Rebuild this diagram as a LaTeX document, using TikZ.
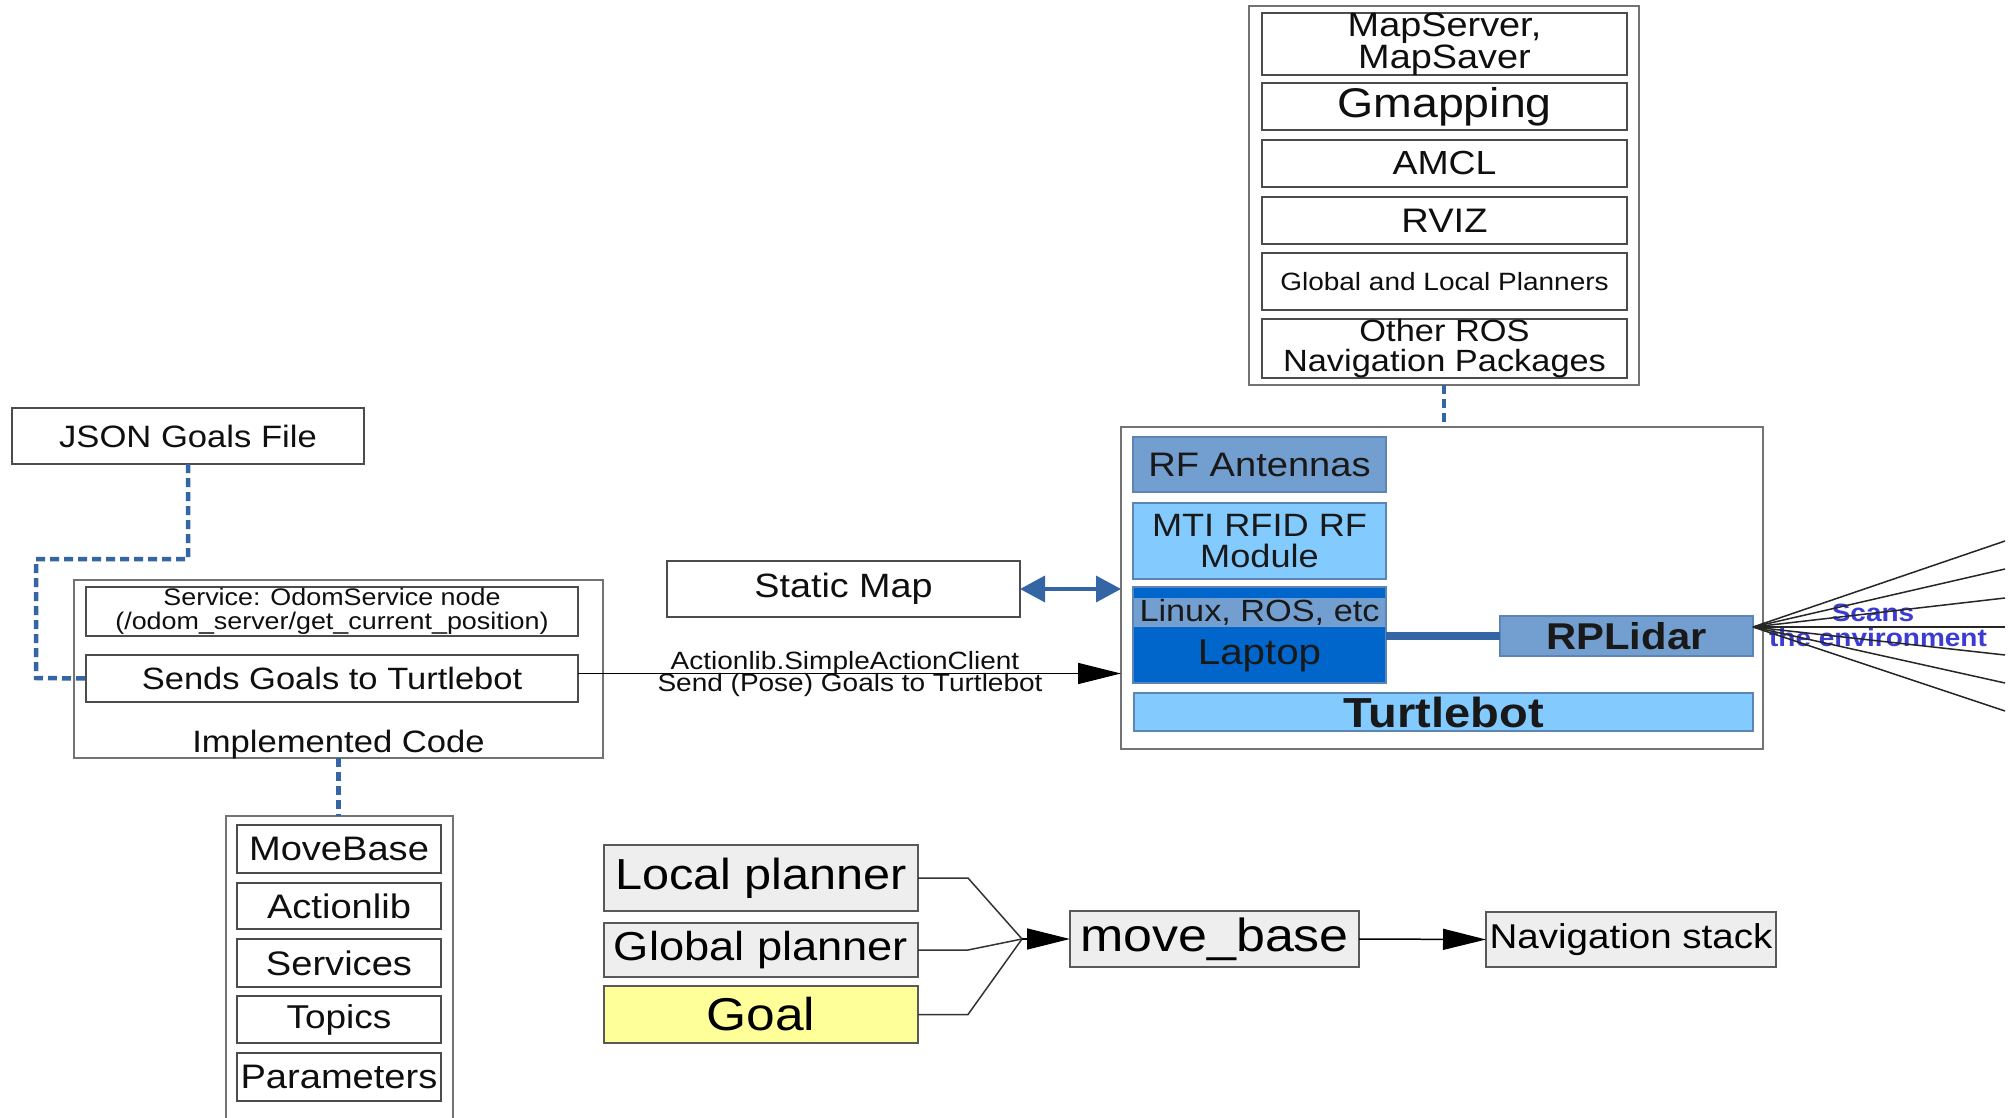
\documentclass[tikz,border=0pt]{standalone}
\usepackage{fontspec}
\setmainfont{Liberation Sans}[FakeStretch=1.12]
\usetikzlibrary{arrows.meta,calc}
\definecolor{medblue}{RGB}{114,159,207}
\definecolor{ltblue}{RGB}{131,202,255}
\definecolor{dkblue}{RGB}{0,102,204}
\definecolor{lineblue}{RGB}{52,101,164}
\definecolor{scanblue}{RGB}{60,60,210}
\definecolor{boxgray}{RGB}{238,238,238}
\definecolor{goalyel}{RGB}{255,255,153}
\definecolor{txt}{RGB}{15,15,15}
\newcommand{\fsz}[2]{\fontsize{#1}{#2}\selectfont}
\newcommand{\mkbox}[7]{\node[#1, minimum width={(#5)-(#3)}, minimum height={(#6)-(#4)}] (#2) at ({((#3)+(#5))/2},{((#4)+(#6))/2}) {#7};}
\tikzset{
  box/.style={draw=black!70, line width=2pt, fill=white, inner sep=0pt, outer sep=0pt, align=center, text=txt},
  outerbox/.style={draw=black!55, line width=2pt, inner sep=0pt, outer sep=0pt},
  bluebox/.style={draw=lineblue!80, line width=1.5pt, inner sep=0pt, outer sep=0pt, align=center, text=black!90},
  flowbox/.style={draw=black!65, line width=2pt, fill=boxgray, inner sep=0pt, outer sep=0pt, text=black},
  lbl/.style={inner sep=0pt, text=txt},
  dotline/.style={draw=lineblue, line width=4.5pt, dash pattern=on 9pt off 5pt},
  bigarrow/.style={line width=1.5pt, black, -{Triangle[length=43pt,width=21pt]}},
  flowline/.style={line width=1.5pt, black!80},
  ray/.style={line width=1.5pt, black!85},
}
\begin{document}
\begin{tikzpicture}[x=1pt,y=-1pt]
\useasboundingbox (0,0) rectangle (2011,1118);
\clip (0,0) rectangle (2011,1118);
\fill[white] (0,0) rectangle (2011,1118);

% ---------- ROS navigation packages stack ----------
\mkbox{outerbox}{navout}{1249}{6}{1639}{385}{}
\mkbox{box,font=\fsz{33.8}{32}}{mapsrv}{1262}{15}{1627}{73}{MapServer,\\MapSaver}
\mkbox{box,font=\fsz{41.5}{41}}{gmap}{1262}{83}{1627}{130}{Gmapping}
\mkbox{box,font=\fsz{33.4}{33}}{amcl}{1262}{140}{1627}{187}{AMCL}
\mkbox{box,font=\fsz{34}{34}}{rviz}{1262}{197}{1627}{244}{RVIZ}
\mkbox{box,font=\fsz{25}{25}}{planners}{1262}{253}{1627}{310}{Global and Local Planners}
\mkbox{box,font=\fsz{30.7}{30}}{otherros}{1262}{320}{1627}{377}{Other ROS\\Navigation Packages}

% ---------- Turtlebot ----------
\mkbox{outerbox}{tbot}{1121}{427}{1763}{749}{}
\draw[dotline] (navout.south) -- (navout.south |- tbot.north);
\mkbox{bluebox,fill=medblue,font=\fsz{34}{34}}{rfant}{1133}{437}{1386}{492}{RF Antennas}
\mkbox{bluebox,fill=ltblue,font=\fsz{32.3}{31}}{mti}{1133}{503}{1386}{579}{MTI RFID RF\\Module}
\mkbox{bluebox,fill=dkblue}{laptop}{1133}{587}{1386}{683}{}
\mkbox{bluebox,fill=medblue,draw=none,font=\fsz{30.6}{30}}{linux}{1134}{598}{1385}{627}{Linux, ROS, etc}
\node[lbl,font=\fsz{36}{36},text=black!90] (laptoptxt) at (1259.5,656) {Laptop};
\mkbox{bluebox,fill=medblue,font=\bfseries\fsz{37.3}{37}}{rplidar}{1500}{616}{1753}{656}{RPLidar}
\mkbox{bluebox,fill=ltblue,font=\bfseries\fsz{42}{42}}{tbar}{1134}{693}{1753}{731}{Turtlebot}
\draw[lineblue, line width=8pt] (laptop.east |- rplidar.west) -- (rplidar.west);

% scans
\node[lbl,font=\bfseries\fsz{25}{25}, text=scanblue] (scans) at (1873,613) {Scans};
\node[lbl,font=\bfseries\fsz{25}{25}, text=scanblue] (envtxt) at (1878,638) {the environment};
\coordinate (lp) at (1753,627);
\foreach \yy in {541,569,598,655,683,711} \draw[ray] (lp) -- (2005,\yy);
\draw[ray, {Stealth[length=12pt,width=9pt]}-] (lp) -- (2005,627);

% ---------- Implemented code ----------
\mkbox{box,font=\fsz{30.9}{31}}{json}{12}{408}{364}{464}{JSON Goals File}
\mkbox{outerbox}{impl}{74}{580}{603}{758}{}
\mkbox{box,font=\fsz{24}{24}}{service}{86}{587}{578}{636}{Service: OdomService node\\(/odom\_server/get\_current\_position)}
\mkbox{box,font=\fsz{30.8}{31}}{sends}{86}{655}{578}{702}{Sends Goals to Turtlebot}
\node[lbl,font=\fsz{30.9}{31}] (impltxt) at (338.5,745) {Implemented Code};
\draw[dotline] (json.south) -- ++(0,95) -| ++(-152,119) -- (sends.west);

% ---------- ROS concepts ----------
\mkbox{outerbox}{pkg}{226}{816}{453}{1140}{}
\draw[dotline] (impl.south) -- (impl.south |- pkg.north);
\mkbox{box,font=\fsz{34}{34}}{movebasepk}{237}{825}{441}{873}{MoveBase}
\mkbox{box,font=\fsz{34}{34}}{actionlibpk}{237}{883}{441}{929}{Actionlib}
\mkbox{box,font=\fsz{34}{34}}{servicespk}{237}{939}{441}{987}{Services}
\mkbox{box,font=\fsz{33}{34}}{topicspk}{237}{996}{441}{1043}{Topics}
\mkbox{box,font=\fsz{34}{34}}{paramspk}{237}{1053}{441}{1101}{Parameters}

% ---------- Static map and actionlib ----------
\mkbox{box,font=\fsz{33.7}{34}}{staticmap}{667}{561}{1020}{617}{Static Map}
\draw[lineblue, line width=3.5pt, {Triangle[length=25pt,width=26pt]}-{Triangle[length=25pt,width=26pt]}] (staticmap.east) -- (staticmap.east -| tbot.west);
\draw[bigarrow] ([yshift=5pt]sends.east) -- ([yshift=5pt]sends.east -| tbot.west);
\node[lbl,font=\fsz{25}{25},anchor=base] (actlbl1) at (845,669) {Actionlib.SimpleActionClient};
\node[lbl,font=\fsz{25}{25},anchor=base] (actlbl2) at (850,691) {Send (Pose) Goals to Turtlebot};

% ---------- move_base flow ----------
\mkbox{flowbox,font=\fsz{43.4}{43}}{local}{604}{845}{918}{911}{Local planner}
\mkbox{flowbox,font=\fsz{40.4}{40}}{global}{604}{923}{918}{977}{Global planner}
\mkbox{flowbox,fill=goalyel,font=\fsz{46}{46}}{goal}{604}{986}{918}{1043}{Goal}
\mkbox{flowbox,font=\fsz{46.4}{46}}{movebase}{1070}{911}{1359}{967}{move\_base}
\mkbox{flowbox,font=\fsz{34.4}{34}}{navstack}{1486}{912}{1776}{967}{Navigation stack}
\coordinate (merge) at (1022,939);
\draw[flowline] (local.east) -- ++(50,0) -- (merge);
\draw[flowline] (global.east) -- ++(50,0) -- (merge);
\draw[flowline] (goal.east) -- ++(50,0) -- (merge);
\draw[bigarrow] (merge) -- (movebase.west);
\draw[bigarrow] (movebase.east) -- (navstack.west);
\end{tikzpicture}
\end{document}
